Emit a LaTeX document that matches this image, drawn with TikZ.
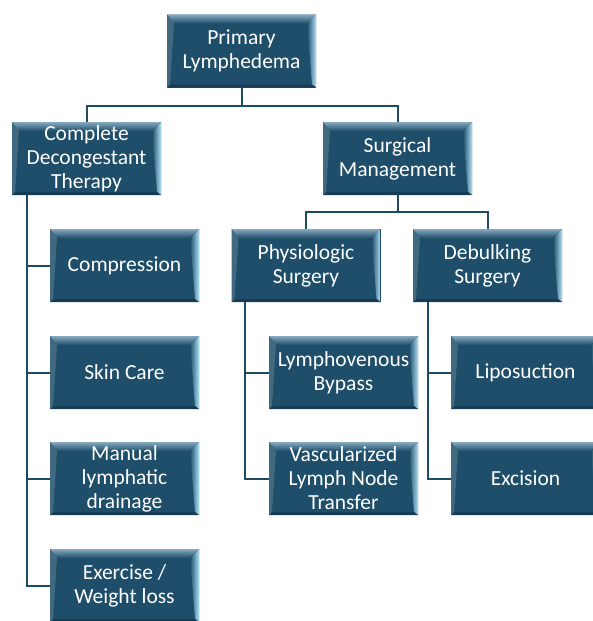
\documentclass[tikz,border=0pt]{standalone}
\usepackage{fontspec}
\setmainfont{Carlito}
\definecolor{boxfill}{RGB}{31,78,106}
\definecolor{bevtop}{RGB}{135,170,192}
\definecolor{bevright}{RGB}{175,225,245}
\definecolor{bevbot}{RGB}{22,60,84}
\definecolor{linecol}{RGB}{30,75,100}
\tikzset{
  box/.style={draw=none, fill=boxfill, minimum width=149pt, minimum height=73pt,
    inner sep=0pt, text=white, align=center,
    font=\fontsize{21.5pt}{24pt}\selectfont,
    path picture={
      \coordinate (nw) at (path picture bounding box.north west);
      \coordinate (ne) at (path picture bounding box.north east);
      \coordinate (sw) at (path picture bounding box.south west);
      \coordinate (se) at (path picture bounding box.south east);
      \fill[top color=bevtop, bottom color=boxfill]
        (nw) -- (ne) -- ([shift={(-9pt,-9pt)}]ne) -- ([shift={(7pt,-9pt)}]nw) -- cycle;
      \fill[left color=boxfill, right color=bevright]
        (ne) -- (se) -- ([shift={(-4pt,3pt)}]se) -- ([shift={(-9pt,-9pt)}]ne) -- cycle;
      \fill[bevbot]
        (sw) -- (se) -- ([shift={(-4pt,3pt)}]se) -- ([shift={(3pt,3pt)}]sw) -- cycle;
      \fill[boxfill!85!white]
        (nw) -- (sw) -- ([shift={(3pt,3pt)}]sw) -- ([shift={(7pt,-9pt)}]nw) -- cycle;
    }},
  conn/.style={draw=linecol, line width=2pt}
}
\begin{document}
\begin{tikzpicture}[x=1pt,y=-1pt]
\useasboundingbox (0,0) rectangle (593,621);
\clip (0,0) rectangle (593,621);
\node[box] (prim) at (241.5,51) {Primary\\Lymphedema};
\node[box] (cdt) at (86.5,158.5) {Complete\\Decongestant\\Therapy};
\node[box] (surg) at (397.5,158.5) {Surgical\\Management};
\node[box] (phys) at (306,265.5) {Physiologic\\Surgery};
\node[box] (debu) at (487.5,265.5) {Debulking\\Surgery};
\node[box] (comp) at (124.5,265.5) {Compression};
\node[box] (skin) at (124.5,372.5) {Skin Care};
\node[box] (mld) at (124.5,478.5) {Manual\\lymphatic\\drainage};
\node[box] (exer) at (124.5,585.5) {Exercise /\\Weight loss};
\node[box] (lvb) at (343.5,372.5) {Lymphovenous\\Bypass};
\node[box] (vlnt) at (343.5,478.5) {Vascularized\\Lymph Node\\Transfer};
\node[box] (lipo) at (525.5,372.5) {Liposuction};
\node[box] (exci) at (525.5,478.5) {Excision};

\draw[conn] (prim.south) -- ++(0,18) coordinate (pj) -| (cdt.north);
\draw[conn] (pj) -| (surg.north);
\draw[conn] (surg.south) -- ++(0,17) coordinate (sj) -| (phys.north);
\draw[conn] (sj) -| (debu.north);
\coordinate (cdtl) at ([xshift=15pt]cdt.south west);
\draw[conn] (cdtl) |- (comp.west);
\draw[conn] (cdtl) |- (skin.west);
\draw[conn] (cdtl) |- (mld.west);
\draw[conn] (cdtl) |- (exer.west);
\coordinate (physl) at ([xshift=14pt]phys.south west);
\draw[conn] (physl) |- (lvb.west);
\draw[conn] (physl) |- (vlnt.west);
\coordinate (debul) at ([xshift=15pt]debu.south west);
\draw[conn] (debul) |- (lipo.west);
\draw[conn] (debul) |- (exci.west);
\end{tikzpicture}
\end{document}
